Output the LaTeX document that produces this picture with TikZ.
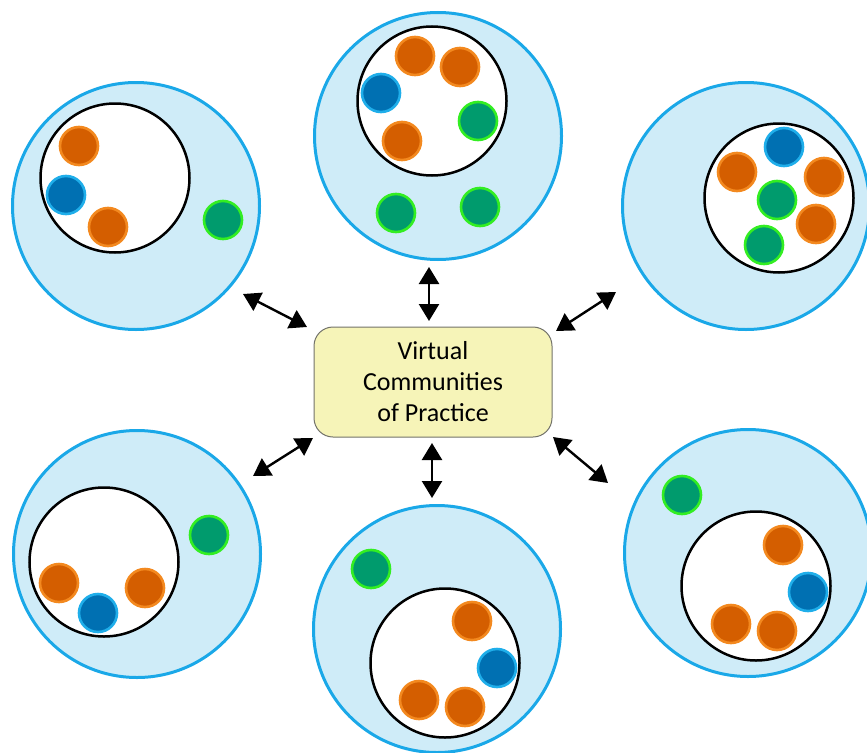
\documentclass[tikz,border=0pt]{standalone}
\usepackage{fontspec}
\setmainfont{Carlito}
\usetikzlibrary{arrows.meta,positioning}
\definecolor{skyline}{HTML}{1AA8E8}
\definecolor{skyfill}{HTML}{CFECF8}
\definecolor{orangeline}{HTML}{F3891F}
\definecolor{orangefill}{HTML}{D45E00}
\definecolor{blueline}{HTML}{1FAEEA}
\definecolor{bluefill}{HTML}{0070B2}
\definecolor{greenline}{HTML}{33EE22}
\definecolor{greenfill}{HTML}{009B6D}
\definecolor{boxline}{HTML}{72726A}
\definecolor{boxfill}{HTML}{F6F4B8}

\begin{document}
\begin{tikzpicture}[x=1pt,y=-1pt]
 \tikzset{group node/.style={circle, draw=skyline, fill=skyfill,
 		line width=3pt, minimum size=247pt, inner sep=0pt}, }
 \tikzset{core node/.style={circle, draw=black, fill=white,
 		line width=2.5pt, minimum size=149pt, inner sep=0pt}, }
 \tikzset{member node/.style={circle, line width=2.6pt,
 		minimum size=38pt, inner sep=0pt}, }
 \tikzset{orange node/.style={member node, draw=orangeline, fill=orangefill}, }
 \tikzset{blue node/.style={member node, draw=blueline, fill=bluefill}, }
 \tikzset{green node/.style={member node, draw=greenline, fill=greenfill}, }
 \tikzset{cop node/.style={rectangle, draw=boxline, fill=boxfill, line width=1pt,
 		rounded corners=19pt, minimum width=238pt, minimum height=110pt,
 		text centered, align=center, font=\fontsize{26}{31}\selectfont}, }
 \tikzset{linea/.style={{Triangle[length=17pt,width=20pt]}-{Triangle[length=17pt,width=20pt]},
 		line width=2.4pt},}
 \useasboundingbox (0,0) rectangle (867,752);
 % groups
 \foreach \n/\x/\y in {1/136/206,2/438/136,3/746/206,4/137/554,5/437/629,6/748/553}
 \node[group node] (\n) at (\x,\y) {};
 \foreach \n/\x/\y in {1/115/178,2/432/101,3/779/198,4/104/562,5/445/663,6/756/586}
 \node[core node] (c\n) at (\x,\y) {};
 % members
 \foreach \n/\x/\y in {1/79/146,2/108/227,3/415/56,4/460/67,5/402/141,6/737/172,
 	7/824/177,8/816/224,9/59/583,10/145/588,11/472/621,12/419/700,13/465/707,
 	14/783/545,15/731/624,16/777/631}
 \node[orange node] (o\n) at (\x,\y) {};
 \foreach \n/\x/\y in {1/66/195,2/381/93,3/784/147,4/98/613,5/497/668,6/808/592}
 \node[blue node] (b\n) at (\x,\y) {};
 \foreach \n/\x/\y in {1/223/220,2/478/121,3/396/213,4/480/207,5/777/200,
 	6/764/245,7/209/535,8/371/569,9/682/495}
 \node[green node] (g\n) at (\x,\y) {};
 % centre
 \node[cop node] (0) at (433,382) {Virtual\\Communities\\of Practice};
 \coordinate (a1) at (243,294); \coordinate (b1) at (307,327);
 \coordinate (a2) at (429,267); \coordinate (b2) at (429,321);
 \coordinate (a3) at (616,292); \coordinate (b3) at (556,331);
 \coordinate (a4) at (253,476); \coordinate (b4) at (313,438);
 \coordinate (a5) at (432,443); \coordinate (b5) at (432,498);
 \coordinate (a6) at (553,437); \coordinate (b6) at (608,483);
 \foreach \x in {1,...,6}
 \draw[linea] (a\x) -- (b\x);
 % 
\end{tikzpicture}
\end{document}
